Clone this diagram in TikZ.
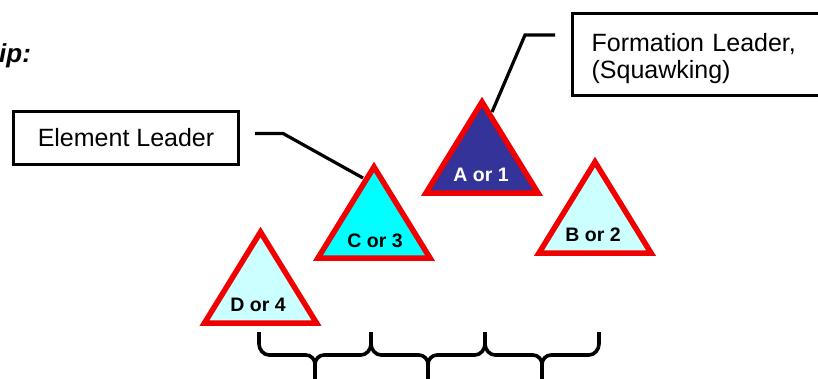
\documentclass[tikz,border=0pt]{standalone}
\usepackage{fontspec}
\setmainfont{Liberation Sans}
\usetikzlibrary{calc}
\definecolor{adark}{RGB}{51,51,153}
\definecolor{ccyan}{RGB}{0,255,255}
\definecolor{lcyan}{RGB}{204,255,255}
\definecolor{tred}{RGB}{240,0,0}
\begin{document}
\begin{tikzpicture}[x=1pt,y=-1pt,
  tri/.style={draw=tred,line width=5.5pt,line join=miter},
  tlabel/.style={inner sep=0pt,font=\fontsize{19.5}{22}\selectfont\bfseries},
  labelbox/.style={draw=black,line width=3.2pt,font=\fontsize{25}{27}\selectfont},
  lead/.style={draw=black,line width=3.2pt},
  bracepath/.style={draw=black,line width=3.6pt,line cap=butt,line join=round}]
\useasboundingbox (0,0) rectangle (818,378);
\clip (0,0) rectangle (818,378);
\fill[white] (0,0) rectangle (818,378);

% title fragment
\node[anchor=base west,inner sep=0pt,font=\fontsize{26}{30}\selectfont\bfseries\itshape] (title) at (-1,62) {ip:};

% label boxes
\node[labelbox,minimum width=225pt,minimum height=53pt,inner sep=0pt] (elem) at (126,138) {Element Leader};
\node[labelbox,anchor=west,align=left,text width=226pt,inner xsep=19.5pt,inner ysep=0pt,minimum height=82pt] (form) at (570.5,54.5)
  {\rule{0pt}{27pt}Formation Leader,\\(Squawking)};

% connector end points on triangles
\coordinate (cC) at (363,178);
\coordinate (cA) at (492,112);

% leader lines
\draw[lead] ($(elem.east)+(15,-4.5)$) -- ++(28,0) -- (cC);
\draw[lead] ($(form.west)+(-15.5,-19.5)$) -- ++(-30,0) -- (cA);

% triangles
\draw[tri,fill=adark] (482,102) -- (538,193) -- (426,193) -- cycle;
\draw[tri,fill=lcyan] (595,162) -- (651,253) -- (539,253) -- cycle;
\draw[tri,fill=ccyan] (374,167) -- (430,258) -- (318,258) -- cycle;
\draw[tri,fill=lcyan] (260.5,232) -- (316.5,323) -- (204.5,323) -- cycle;

% triangle labels
\node[tlabel,text=white] (A) at (481,175) {A or 1};
\node[tlabel] (B) at (593,235) {B or 2};
\node[tlabel] (C) at (375,241) {C or 3};
\node[tlabel] (D) at (258,305) {D or 4};

% braces
\foreach \a/\m/\b in {259/315/371, 371/428/485, 485/542/599}{
  \draw[bracepath] (\a,332) -- (\a,344) .. controls (\a,349.5) and (\a+4.5,355) .. (\a+10,355)
     -- (\m-9,355) .. controls (\m-4,355) and (\m,359.5) .. (\m,364) -- (\m,390);
  \draw[bracepath] (\m,364) .. controls (\m,359.5) and (\m+4,355) .. (\m+9,355)
     -- (\b-10,355) .. controls (\b-4.5,355) and (\b,349.5) .. (\b,344) -- (\b,332);
}
\end{tikzpicture}
\end{document}
